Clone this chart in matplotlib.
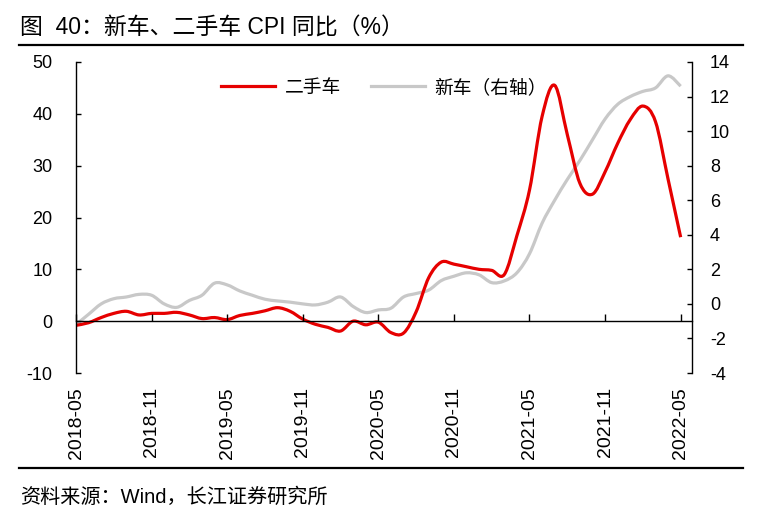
import numpy as np
import matplotlib
matplotlib.use("Agg")
import matplotlib.pyplot as plt
from matplotlib.lines import Line2D
from matplotlib.path import Path
from matplotlib.patches import PathPatch

plt.rcParams['font.family'] = ['Liberation Sans', 'Noto Sans CJK SC']
plt.rcParams['axes.unicode_minus'] = False

# monthly, 2018-05 .. 2022-05
months = [f"{y}-{m:02d}" for y in range(2018, 2023) for m in range(1, 13)]
months = months[months.index("2018-05"):months.index("2022-05") + 1]

used_car = [-0.8, -0.3, 0.7, 1.5, 1.9, 1.2, 1.5, 1.5, 1.7, 1.2,
            0.5, 0.7, 0.3, 1.1, 1.5, 2.0, 2.6, 1.9, 0.4, -0.6,
            -1.2, -1.9, 0.0, -0.7, -0.2, -2.2, -2.3, 1.8, 8.4, 11.4,
            11.0, 10.5, 10.0, 9.8, 9.0, 16.5, 25.3, 39.5, 45.5, 36.0,
            26.6, 24.5, 28.8, 34.3, 38.9, 41.5, 38.5, 27.4, 16.2]
new_car = [-1.2, -0.6, 0.0, 0.3, 0.4, 0.55, 0.5, 0.0, -0.2, 0.2,
           0.5, 1.2, 1.1, 0.75, 0.5, 0.27, 0.17, 0.1, 0.0, -0.06,
           0.1, 0.4, -0.15, -0.5, -0.35, -0.25, 0.4, 0.6, 0.8, 1.35,
           1.6, 1.8, 1.68, 1.23, 1.33, 1.8, 2.9, 4.67, 6.0, 7.2,
           8.3, 9.5, 10.7, 11.55, 12.0, 12.3, 12.5, 13.2, 12.6]

title = "图  40：新车、二手车 CPI 同比（%）"
source = "资料来源：Wind，长江证券研究所"
RED = "#E60000"
GRAY = "#C8C8C8"
FS = 13


def smooth_path(xs, ys):
    """Excel-style smoothed line: cubic bezier through every point."""
    p = np.column_stack([xs, ys]).astype(float)
    n = len(p)
    verts = [p[0]]
    codes = [Path.MOVETO]
    for i in range(n - 1):
        prev = p[i - 1] if i > 0 else p[i]
        nxt = p[i + 2] if i + 2 < n else p[i + 1]
        c1 = p[i] + (p[i + 1] - prev) / 6
        c2 = p[i + 1] - (nxt - p[i]) / 6
        verts += [c1, c2, p[i + 1]]
        codes += [Path.CURVE4] * 3
    return Path(verts, codes)


x = np.arange(len(months))
tick_idx = x[::6]

fig = plt.figure(figsize=(7.62, 5.28), dpi=100)
ax = fig.add_axes([76 / 762, 1 - 373 / 528, 616 / 762, 311 / 528])
ax2 = ax.twinx()
ax.set_zorder(ax2.get_zorder() + 1)
ax.patch.set_visible(False)

ax2.add_patch(PathPatch(smooth_path(x, new_car), facecolor='none', edgecolor=GRAY,
                        lw=2.3, capstyle='butt', joinstyle='round'))
ax.add_patch(PathPatch(smooth_path(x, used_car), facecolor='none', edgecolor=RED,
                       lw=2.3, capstyle='butt', joinstyle='round'))
h1 = Line2D([], [], color=RED, lw=2.3, label="二手车")
h2 = Line2D([], [], color=GRAY, lw=2.3, label="新车（右轴）")

ax.set_xlim(0, 48.9)
ax.set_ylim(-10, 50)
ax.set_yticks(range(-10, 51, 10))
ax2.set_ylim(-4, 14)
ax2.set_yticks(range(-4, 15, 2))

for s in ['top', 'right']:
    ax.spines[s].set_visible(False)
for s in ['top', 'left', 'bottom']:
    ax2.spines[s].set_visible(False)
ax.spines['bottom'].set_position(('data', 0))
ax.spines['left'].set_linewidth(1.0)
ax2.spines['right'].set_linewidth(1.0)
ax.spines['bottom'].set_linewidth(1.0)

ax.set_xticks(tick_idx)
ax.tick_params(axis='x', direction='in', length=5, width=1, labelbottom=False)
ax.tick_params(axis='y', direction='in', length=3.6, width=1, pad=17, labelsize=FS)
ax2.tick_params(axis='y', direction='in', length=3.6, width=1, pad=13, labelsize=FS)

sec = ax.secondary_xaxis('bottom')
sec.set_xticks(tick_idx)
sec.set_xticklabels([months[i] for i in tick_idx], rotation=90, fontsize=14)
sec.tick_params(axis='x', length=0, pad=10)
sec.spines['bottom'].set_visible(False)

ax.legend(handles=[h1, h2], loc='upper center', bbox_to_anchor=(0.5, 1.0),
          ncol=2, frameon=False, fontsize=13.5, handlelength=2.9,
          handletextpad=0.5, columnspacing=1.6)

fig.text(20 / 762, 1 - 28 / 528, title, fontsize=16.5, va='center', ha='left')
fig.text(20 / 762, 1 - 497 / 528, source, fontsize=14.5, va='center', ha='left')
fig.add_artist(Line2D([19 / 762, 743 / 762], [1 - 45 / 528] * 2, color='black', lw=1.6,
                      transform=fig.transFigure))
fig.add_artist(Line2D([19 / 762, 743 / 762], [1 - 468 / 528] * 2, color='black', lw=1.6,
                      transform=fig.transFigure))

fig.savefig("out.png", dpi=100)
